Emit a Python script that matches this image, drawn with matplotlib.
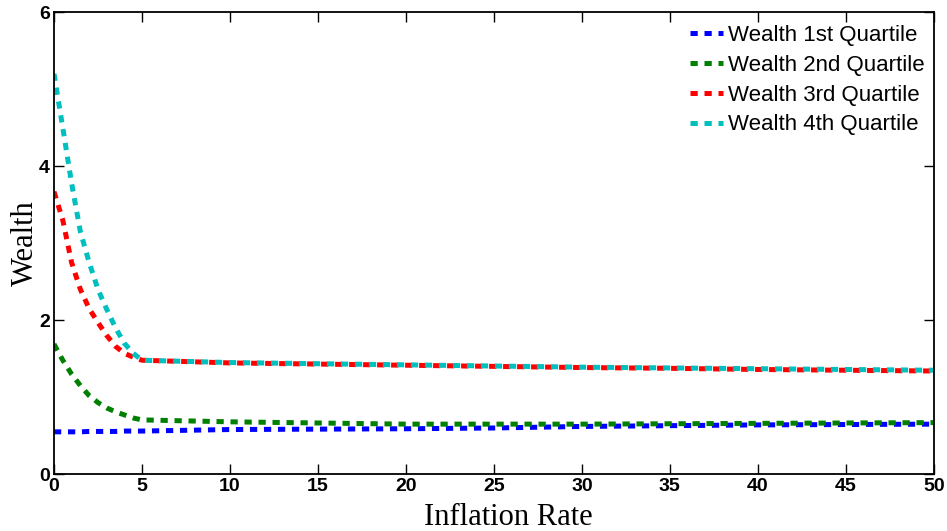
import numpy as np
import matplotlib
matplotlib.use("Agg")
import matplotlib.pyplot as plt

# values
rate = [0, 0.5, 1, 1.5, 2, 2.5, 3, 3.5, 4, 4.5, 5, 10, 15, 20, 25, 30, 35, 40, 45, 50]
q1 = [0.55, 0.55, 0.55, 0.55, 0.555, 0.555, 0.555, 0.555, 0.56, 0.56, 0.56,
      0.58, 0.585, 0.59, 0.60, 0.62, 0.63, 0.64, 0.645, 0.65]
q2 = [1.69, 1.48, 1.30, 1.15, 1.02, 0.93, 0.86, 0.81, 0.77, 0.73, 0.705,
      0.68, 0.665, 0.65, 0.65, 0.65, 0.655, 0.66, 0.665, 0.67]
q3 = [3.67, 3.30, 2.75, 2.40, 2.15, 1.97, 1.80, 1.66, 1.57, 1.52, 1.48,
      1.445, 1.43, 1.415, 1.40, 1.385, 1.375, 1.36, 1.35, 1.34]
q4 = [5.20, 4.50, 3.78, 3.15, 2.75, 2.40, 2.14, 1.90, 1.70, 1.57, 1.48,
      1.45, 1.435, 1.42, 1.405, 1.39, 1.38, 1.37, 1.36, 1.35]
names = ["Wealth 1st Quartile", "Wealth 2nd Quartile",
         "Wealth 3rd Quartile", "Wealth 4th Quartile"]
colors = ["#0000ff", "#008000", "#ff0000", "#00bfbf"]

fig = plt.figure(figsize=(9.47, 5.31), dpi=100)
ax = fig.add_axes([0.057, 0.107, 0.929, 0.870])

for ys, name, c in zip([q1, q2, q3, q4], names, colors):
    ax.plot(rate, ys, color=c, lw=3.6, ls=(0, (1.45, 1.35)), label=name)

ax.set_xlim(0, 50)
ax.set_ylim(0, 6)
ax.set_xticks(np.arange(0, 51, 5))
ax.set_yticks([0, 2, 4, 6])
ax.tick_params(direction="in", top=True, right=True, length=7, width=1, pad=3)
for lab in ax.get_xticklabels() + ax.get_yticklabels():
    lab.set_family("Liberation Sans")
    lab.set_fontweight("bold")
    lab.set_fontsize(14)
for s in ax.spines.values():
    s.set_linewidth(1.3)

ax.set_xlabel("Inflation Rate", family="Liberation Serif", fontsize=22)
ax.xaxis.set_label_coords(0.516, -0.062)
ax.set_ylabel("Wealth", family="Liberation Serif", fontsize=22)
ax.yaxis.set_label_coords(-0.0165, 0.5)

leg = ax.legend(loc="upper right", frameon=False, handlelength=1.45, handletextpad=0.25,
                labelspacing=0.4, borderaxespad=0.0, bbox_to_anchor=(1.0, 0.992),
                prop={"family": "Liberation Sans", "size": 16})

fig.savefig("out.png", dpi=100)
